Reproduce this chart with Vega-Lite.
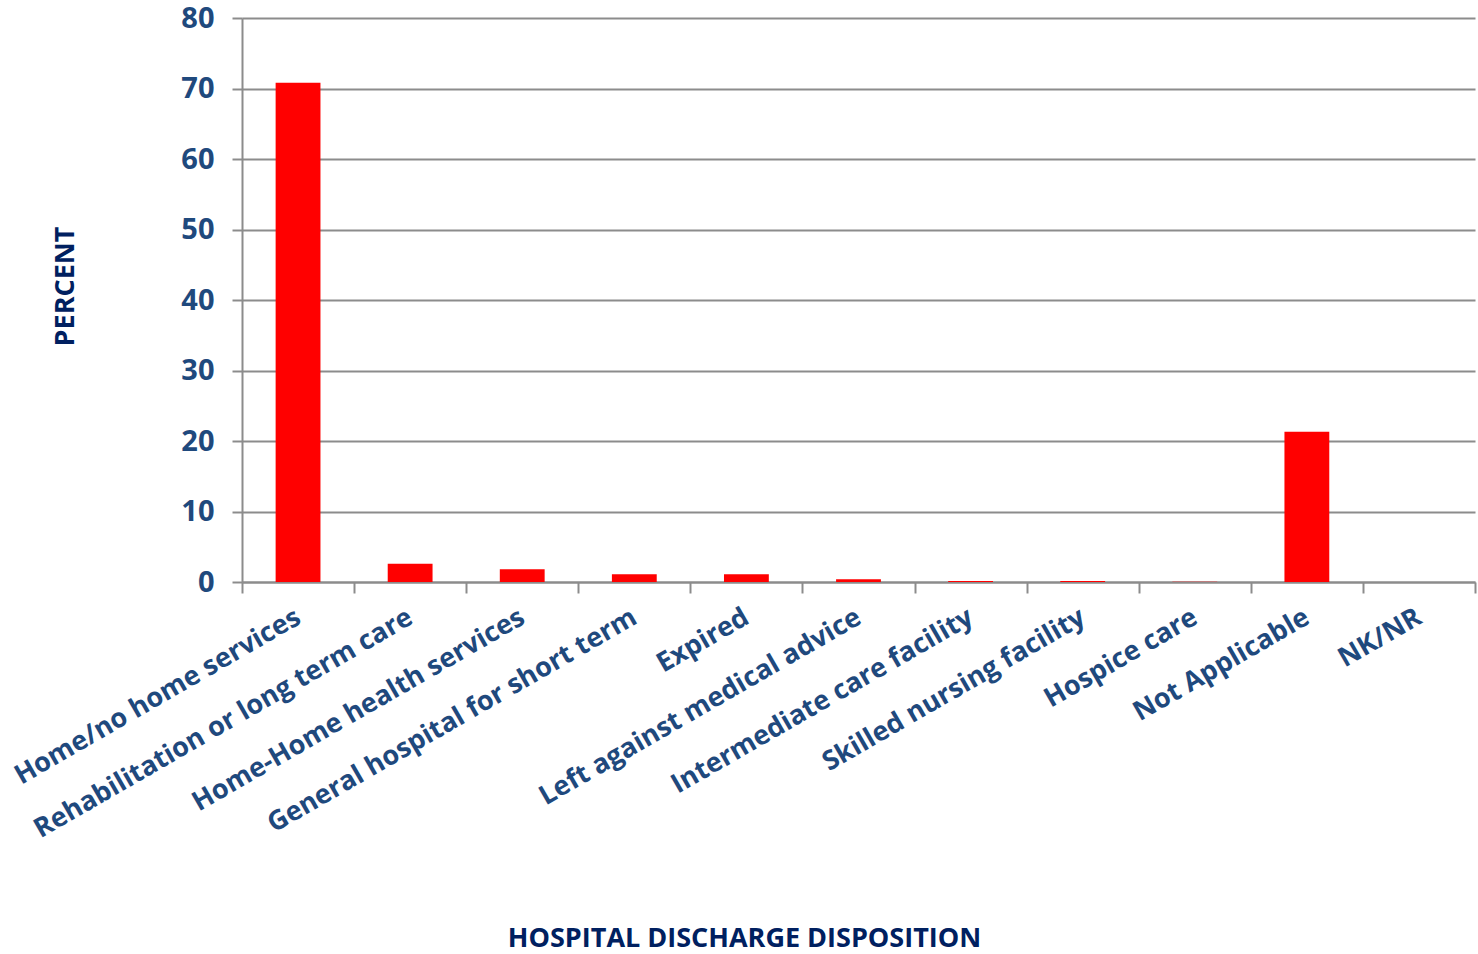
{
  "$schema": "https://vega.github.io/schema/vega-lite/v6.json",
  "width": 1233,
  "height": 564,
  "autosize": "none",
  "padding": {"left": 242, "top": 18, "right": 3, "bottom": 372},
  "background": "white",
  "data": {"values": [
    {"disposition": "Home/no home services", "percent": 70.8},
    {"disposition": "Rehabilitation or long term care", "percent": 2.6},
    {"disposition": "Home-Home health services", "percent": 1.8},
    {"disposition": "General hospital for short term", "percent": 1.1},
    {"disposition": "Expired", "percent": 1.1},
    {"disposition": "Left against medical advice", "percent": 0.4},
    {"disposition": "Intermediate care facility", "percent": 0.15},
    {"disposition": "Skilled nursing facility", "percent": 0.15},
    {"disposition": "Hospice care", "percent": 0.05},
    {"disposition": "Not Applicable", "percent": 21.3},
    {"disposition": "NK/NR", "percent": 0}
  ]},
  "mark": {"type": "bar", "color": "#FF0000", "width": {"band": 0.4}},
  "encoding": {
    "x": {
      "field": "disposition",
      "type": "nominal",
      "sort": null,
      "scale": {"paddingInner": 0, "paddingOuter": 0},
      "axis": {
        "title": "HOSPITAL DISCHARGE DISPOSITION",
        "titleFont": "Open Sans",
        "titleFontSize": 27,
        "titleFontWeight": "bold",
        "titleColor": "#002060",
        "titleX": 502,
        "titleY": 356,
        "titleAnchor": "middle",
        "titleAlign": "center",
        "titleBaseline": "middle",
        "labelAngle": -30,
        "labelAlign": "right",
        "labelBaseline": "middle",
        "labelFont": "Open Sans",
        "labelFontSize": 27,
        "labelFontWeight": "bold",
        "labelColor": "#1F497D",
        "labelPadding": 22,
        "labelOverlap": false,
        "labelLimit": 0,
        "tickBand": "extent",
        "tickSize": 11,
        "tickColor": "#8C8C8C",
        "tickWidth": 2,
        "domainColor": "#8C8C8C",
        "domainWidth": 2,
        "grid": false
      }
    },
    "y": {
      "field": "percent",
      "type": "quantitative",
      "scale": {"domain": [0, 80], "nice": false},
      "axis": {
        "title": "PERCENT",
        "titleFont": "Open Sans",
        "titleFontSize": 27,
        "titleFontWeight": "bold",
        "titleColor": "#002060",
        "titleX": -177,
        "titleY": 268,
        "titleAngle": -90,
        "titleAlign": "center",
        "titleBaseline": "middle",
        "values": [0, 10, 20, 30, 40, 50, 60, 70, 80],
        "labelFont": "Open Sans",
        "labelFontSize": 29,
        "labelFontWeight": "bold",
        "labelColor": "#1F497D",
        "labelPadding": 18,
        "tickSize": 10,
        "tickColor": "#8C8C8C",
        "tickWidth": 2,
        "domainColor": "#8C8C8C",
        "domainWidth": 2,
        "grid": true,
        "gridColor": "#8C8C8C",
        "gridWidth": 2
      }
    }
  },
  "config": {"view": {"stroke": null}}
}
